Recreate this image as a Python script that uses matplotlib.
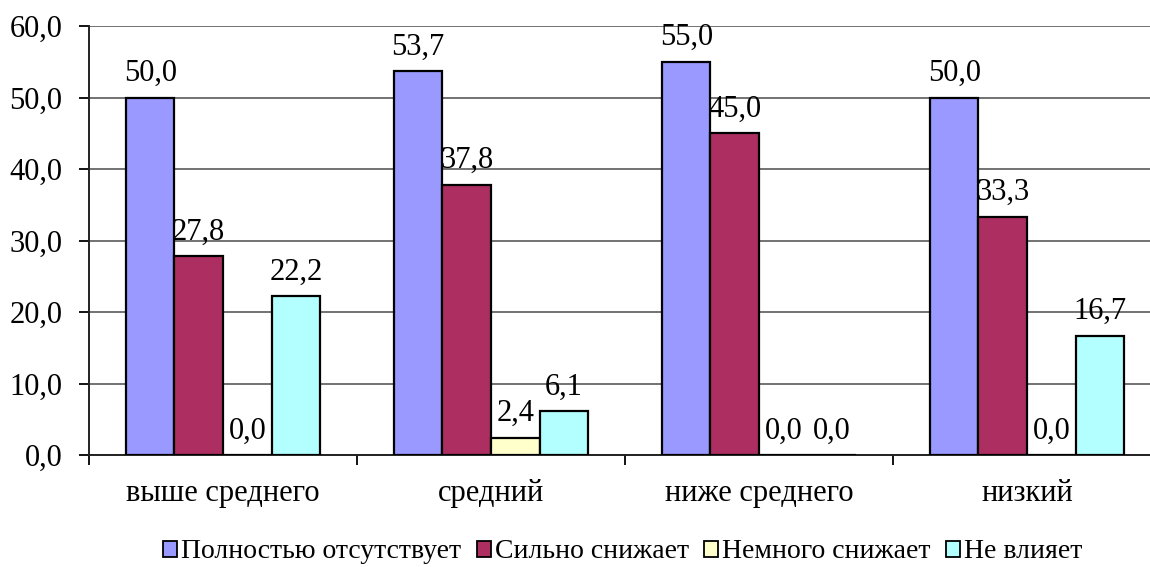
import matplotlib
matplotlib.use("Agg")
import matplotlib.pyplot as plt
import numpy as np
from matplotlib.patches import Patch

plt.rcParams['font.family'] = ['Liberation Serif', 'DejaVu Serif']

categories = ["выше среднего", "средний", "ниже среднего", "низкий"]
series_names = ["Полностью отсутствует", "Сильно снижает", "Немного снижает", "Не влияет"]
absent = [50.0, 53.7, 55.0, 50.0]
strong = [27.8, 37.8, 45.0, 33.3]
slight = [0.0, 2.4, 0.0, 0.0]
none_eff = [22.2, 6.1, 0.0, 16.7]
series_values = [absent, strong, slight, none_eff]
colors = ["#9999FF", "#AD2F62", "#FFFFCC", "#B3FFFF"]
yticks = [0, 10, 20, 30, 40, 50, 60]

W, H = 1150, 567
fig = plt.figure(figsize=(W / 100, H / 100), dpi=100)
left, right, bottom, top = 89, 1161, 455, 26
ax = fig.add_axes([left / W, 1 - bottom / H, (right - left) / W, (bottom - top) / H])

x = np.arange(len(categories))
bw = 0.181
for i, (vals, col) in enumerate(zip(series_values, colors)):
    pos = x + (i - 1.5) * bw
    ax.bar(pos, vals, width=bw, color=col, edgecolor="black", linewidth=1.6, zorder=3)
    for p, v in zip(pos, vals):
        ax.annotate(f"{v:.1f}".replace(".", ","), (p, v), xytext=(0, 12),
                    textcoords="offset points", ha="center", va="baseline",
                    fontsize=22, zorder=4)

ax.set_xlim(-0.5, len(categories) - 0.5)
ax.set_ylim(0, 60)
ax.set_yticks(yticks)
ax.set_yticklabels([f"{t:.1f}".replace(".", ",") for t in yticks], fontsize=22)
ax.yaxis.grid(True, color="#5a5a5a", linewidth=1.2, zorder=0)
ax.set_axisbelow(True)

ax.set_xticks(x)
ax.set_xticklabels(categories, fontsize=22)
ax.tick_params(axis="x", length=0, pad=17)
ax.set_xticks(np.arange(len(categories) + 1) - 0.5, minor=True)
ax.tick_params(axis="x", which="minor", length=7, width=1.3, direction="out")
ax.tick_params(axis="y", length=7, width=1.3, pad=12)

for s in ["top", "right"]:
    ax.spines[s].set_visible(False)
for s in ["left", "bottom"]:
    ax.spines[s].set_linewidth(1.4)
    ax.spines[s].set_color("#222222")

handles = [Patch(facecolor=c, edgecolor="black", linewidth=1.3) for c in colors]
fig.legend(handles, series_names, loc="center", bbox_to_anchor=(623 / W, 1 - 552 / H),
           ncol=4, frameon=False, fontsize=20, handlelength=0.5, handleheight=0.5,
           handletextpad=0.15, columnspacing=0.55, borderpad=0.1)

fig.savefig("out.png", dpi=100)
